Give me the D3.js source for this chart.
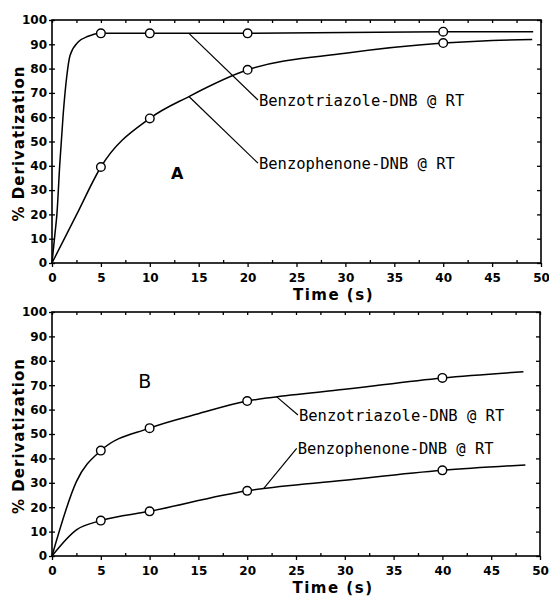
<!DOCTYPE html>
<html lang="en">
<head>
    <meta charset="UTF-8">
    <title>Derivatization</title>
    <style>
        body { margin: 0; background: white; }
        .tick text { font-family: "DejaVu Sans", sans-serif; font-weight: bold; font-size: 12px; }
        .domain { display: none; }
        .tick line { stroke: black; stroke-width: 1.3px; }
        .curve { fill: none; stroke: black; stroke-width: 1.5px; }
        .leader { stroke: black; stroke-width: 1.2px; }
        .marker { fill: white; stroke: black; stroke-width: 1.4px; }
        .lbl { font-family: "DejaVu Sans Mono", "Liberation Mono", monospace; font-size: 15.5px; }
        .title { font-family: "DejaVu Sans", sans-serif; font-weight: bold; font-size: 15px; }
    </style>
</head>
<body>
<div id="chart"></div>
<script src="https://d3js.org/d3.v7.min.js"></script>
<script>
    // measured points (open circles)
    var times = [5, 10, 20, 40];
    var aTriazole = [94.5, 94.5, 94.5, 95.2];
    var aPhenone = [39.5, 59.5, 79.5, 90.5];
    var bTriazole = [43.2, 52.4, 63.5, 73];
    var bPhenone = [14.5, 18.3, 26.7, 35.1];

    // hand drawn fitted curves
    var aTriazoleCurveT = [0, 0.3, 0.5, 0.8, 1.15, 1.5, 1.85, 2.7, 3.7, 5, 10, 20, 40, 49.2];
    var aTriazoleCurveY = [0, 12, 20, 41, 61.5, 76.5, 85.5, 91, 93.3, 94.5, 94.5, 94.5, 95.2, 95.2];
    var aPhenoneCurveT = [0, 2.5, 5, 10, 14, 20, 30, 40, 45, 49.1];
    var aPhenoneCurveY = [0, 19.8, 39.5, 59.5, 68.5, 79.5, 86.3, 90.5, 91.6, 92];
    var bTriazoleCurveT = [0, 2.5, 5, 10, 15, 20, 22.5, 30, 40, 48.3];
    var bTriazoleCurveY = [0, 30.5, 43.2, 52.4, 58.3, 63.5, 65, 68.3, 73, 75.5];
    var bPhenoneCurveT = [0, 2.5, 5, 10, 20, 30, 40, 48.5];
    var bPhenoneCurveY = [0, 10.7, 14.5, 18.3, 26.7, 31, 35.1, 37.3];

    var xTicks = [0, 5, 10, 15, 20, 25, 30, 35, 40, 45, 50];
    var yTicks = [0, 10, 20, 30, 40, 50, 60, 70, 80, 90, 100];
    var seriesNames = ["Benzotriazole-DNB @ RT", "Benzophenone-DNB @ RT"];

    var svg = d3.select("#chart").append("svg")
        .attr("width", 549)
        .attr("height", 600);

    function zip(t, v) {
        return t.map(function (d, i) { return [d, v[i]]; });
    }

    function panel(opt) {
        var x = d3.scaleLinear().domain([0, 50]).range([opt.left, opt.right]);
        var y = d3.scaleLinear().domain([0, 100]).range([opt.bottom, opt.top]);
        var g = svg.append("g");

        // frame
        g.append("rect")
            .attr("x", x(0)).attr("y", y(100))
            .attr("width", x(50) - x(0)).attr("height", y(0) - y(100))
            .attr("fill", "none").attr("stroke", "black").attr("stroke-width", 1.6);

        var minorX = d3.range(2.5, 50, 5);

        g.append("g")
            .attr("transform", "translate(0," + y(0) + ")")
            .call(d3.axisBottom(x).tickValues(xTicks).tickSize(4).tickPadding(6));
        g.append("g")
            .attr("transform", "translate(0," + y(0) + ")")
            .call(d3.axisBottom(x).tickValues(minorX).tickSize(-3).tickFormat(""));
        g.append("g")
            .attr("transform", "translate(0," + y(100) + ")")
            .call(d3.axisTop(x).tickValues(xTicks.concat(minorX)).tickSize(-3).tickFormat(""));
        g.append("g")
            .attr("transform", "translate(" + x(0) + ",0)")
            .call(d3.axisLeft(y).tickValues(yTicks).tickSize(3).tickPadding(2));
        g.append("g")
            .attr("transform", "translate(" + x(0) + ",0)")
            .call(d3.axisLeft(y).tickValues(yTicks).tickSize(-3).tickFormat(""));
        g.append("g")
            .attr("transform", "translate(" + x(50) + ",0)")
            .call(d3.axisRight(y).tickValues(yTicks).tickSize(-4).tickFormat(""));
        g.selectAll(".tick text").attr("fill", "black");

        // titles
        g.append("text").attr("class", "title")
            .attr("x", (x(0) + x(50)) / 2 + 37).attr("y", y(0) + 37)
            .attr("text-anchor", "middle").attr("letter-spacing", "1.5px")
            .text("Time (s)");
        g.append("text").attr("class", "title")
            .attr("transform", "translate(24," + ((y(0) + y(100)) / 2 + 2) + ") rotate(-90)")
            .attr("text-anchor", "middle").attr("letter-spacing", "1px")
            .text("% Derivatization");

        var line = d3.line()
            .x(function (d) { return x(d[0]); })
            .y(function (d) { return y(d[1]); })
            .curve(d3.curveMonotoneX);

        opt.curves.forEach(function (c) {
            g.append("path").attr("class", "curve").attr("d", line(c));
        });

        // leader lines and labels
        opt.labels.forEach(function (l, i) {
            g.append("line").attr("class", "leader")
                .attr("x1", x(l.from[0])).attr("y1", y(l.from[1]))
                .attr("x2", x(l.to[0])).attr("y2", y(l.to[1]));
            g.append("text").attr("class", "lbl")
                .attr("x", x(l.to[0]) + 1).attr("y", y(l.to[1]) + 6)
                .text(seriesNames[i]);
        });

        opt.points.forEach(function (p) {
            g.selectAll(null).data(p).enter().append("circle")
                .attr("class", "marker")
                .attr("cx", function (d) { return x(d[0]); })
                .attr("cy", function (d) { return y(d[1]); })
                .attr("r", 4.3);
        });

        g.append("text")
            .attr("x", x(opt.tag.at[0])).attr("y", y(opt.tag.at[1]))
            .attr("text-anchor", "middle")
            .attr("font-family", "DejaVu Sans, sans-serif")
            .attr("font-size", opt.tag.size)
            .attr("font-weight", opt.tag.weight)
            .text(opt.tag.text);
    }

    panel({
        left: 52, right: 541, top: 20, bottom: 263,
        curves: [zip(aTriazoleCurveT, aTriazoleCurveY), zip(aPhenoneCurveT, aPhenoneCurveY)],
        points: [zip(times, aTriazole), zip(times, aPhenone)],
        labels: [
            { from: [14, 94.5], to: [21.06, 67.1] },
            { from: [14, 68.5], to: [21.06, 41.1] }
        ],
        tag: { text: "A", at: [12.8, 34.5], size: "16px", weight: "bold" }
    });

    panel({
        left: 52, right: 540, top: 312, bottom: 556,
        curves: [zip(bTriazoleCurveT, bTriazoleCurveY), zip(bPhenoneCurveT, bPhenoneCurveY)],
        points: [zip(times, bTriazole), zip(times, bPhenone)],
        labels: [
            { from: [23, 65.3], to: [25.2, 57.8] },
            { from: [21.7, 27.7], to: [25.07, 44.1] }
        ],
        tag: { text: "B", at: [9.5, 69], size: "19px", weight: "normal" }
    });
</script>
</body>
</html>
